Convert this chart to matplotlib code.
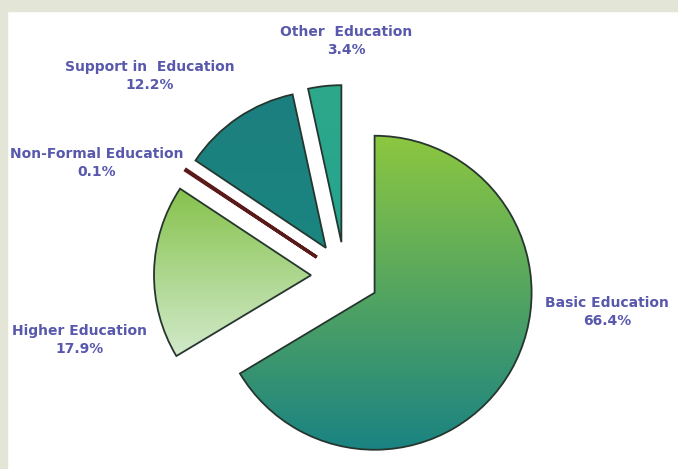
"""Education spending split, exploded pie with gradient wedges."""
import matplotlib.pyplot as plt
import numpy as np
from matplotlib.colors import LinearSegmentedColormap
from matplotlib.patches import Rectangle

categories = ["Basic Education", "Higher Education", "Non-Formal Education",
              "Support in  Education", "Other  Education"]
shares = [66.4, 17.9, 0.1, 12.2, 3.4]

# top / bottom colour of each wedge's vertical gradient
grad_top = ["#8dc740", "#86c24c", "#7a2020", "#1d7f7f", "#2ea88a"]
grad_bottom = ["#1a8382", "#d2eacb", "#5a1414", "#1a8580", "#23a590"]
edge_colors = ["#26362e", "#26362e", "#5a1a1a", "#26362e", "#26362e"]

# label anchor points (pixels from bottom-left)
label_xy = [(607, 157), (80, 129), (97, 306), (150, 393), (346, 428)]

W, H = 678, 469


def main():
    """Draw the chart."""
    fig = plt.figure(figsize=(W / 100, H / 100), dpi=100)
    fig.patch.set_facecolor("white")
    # light frame strips along the top and left
    fig.patches.append(Rectangle((0, 1 - 11 / H), 1, 11 / H,
                                 transform=fig.transFigure,
                                 color="#e3e6d6", zorder=0))
    fig.patches.append(Rectangle((0, 0), 7 / W, 1,
                                 transform=fig.transFigure,
                                 color="#e3e6d6", zorder=0))

    ax = fig.add_axes([0, 0, 1, 1])
    ax.patch.set_alpha(0)

    radius = 157
    # pie.explode is in data units here, so every slice moves out 34 px
    wedges, _ = ax.pie(shares, startangle=90, counterclock=False,
                       explode=[34] * len(shares), radius=radius,
                       center=(345, 193), colors=["none"] * len(shares),
                       wedgeprops=dict(linewidth=1.3, zorder=3))
    for w, ec in zip(wedges, edge_colors):
        w.set_edgecolor(ec)
    # the 0.1 % slice is only a sliver, give it a heavier outline
    wedges[2].set_linewidth(2.4)

    grad = np.linspace(0, 1, 256).reshape(-1, 1)
    for w, top, bottom in zip(wedges, grad_top, grad_bottom):
        ext = w.get_path().get_extents()
        cmap = LinearSegmentedColormap.from_list("g", [bottom, top])
        im = ax.imshow(grad, cmap=cmap, origin="lower", aspect="auto",
                       extent=[ext.x0, ext.x1, ext.y0, ext.y1], zorder=2,
                       interpolation="bilinear")
        im.set_clip_path(w)

    for name, val, (x, y) in zip(categories, shares, label_xy):
        ax.text(x, y, f"{name}\n{val}%", ha="center", va="center",
                fontsize=10, fontweight="bold", color="#5858ad",
                family="DejaVu Sans", linespacing=1.45)

    ax.set_xlim(0, W)
    ax.set_ylim(0, H)
    ax.set_aspect("equal")
    ax.axis("off")
    fig.savefig("out.png", dpi=100)


if __name__ == "__main__":
    main()
